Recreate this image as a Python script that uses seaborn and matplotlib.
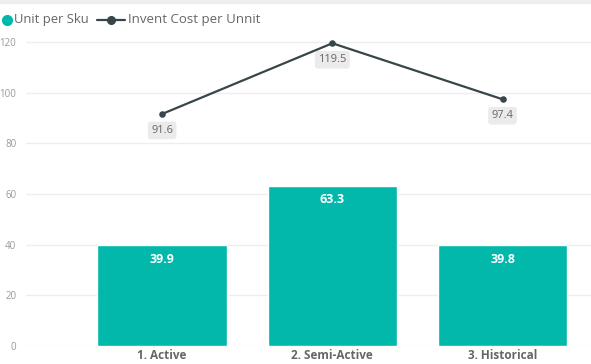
import matplotlib.pyplot as plt
import seaborn as sns
from matplotlib.lines import Line2D

categories = ["1. Active", "2. Semi-Active", "3. Historical"]
unit_per_sku = [39.9, 63.3, 39.8]
invent_cost = [91.6, 119.5, 97.4]
y_ticks = [0, 20, 40, 60, 80, 100, 120]
legend_labels = ["Unit per Sku", "Invent Cost per Unnit"]

TEAL = "#01B8AA"
DARK = "#374649"
W, H = 591, 364

sns.set_theme(style="white")
plt.rcParams["font.family"] = ["Open Sans", "DejaVu Sans"]

fig = plt.figure(figsize=(W / 100, H / 100), dpi=100)
ax = fig.add_axes([26 / W, 18 / H, 1 - 26 / W, (346 - 18) / H])

sns.barplot(x=categories, y=unit_per_sku, color=TEAL, width=0.76, ax=ax,
            saturation=1, zorder=2)
sns.pointplot(x=categories, y=invent_cost, color=DARK, ax=ax,
              markersize=3.5, linewidth=1.6, zorder=3)

ax.set_ylim(0, 120 * (346 - 18) / (346 - 42))
ax.set_xlim(-0.8, 2.52)
ax.set_yticks(y_ticks)
ax.set_yticklabels([str(v) for v in y_ticks])
ax.grid(axis="y", color="#EEEEEE", linewidth=1, zorder=0)
ax.set_axisbelow(True)
for s in ax.spines.values():
    s.set_visible(False)
ax.tick_params(axis="y", labelsize=7, labelcolor="#999999", length=0, pad=7)
ax.tick_params(axis="x", labelsize=8.5, labelcolor="#666666", length=0, pad=2)
for lbl in ax.get_xticklabels():
    lbl.set_fontweight("bold")

for i, v in enumerate(unit_per_sku):
    ax.text(i, v - 3.0, f"{v:.1f}", ha="center", va="top", color="white",
            fontsize=9, fontweight="bold", zorder=4)

for i, v in enumerate(invent_cost):
    ax.text(i, v - 6.5, f"{v:.1f}", ha="center", va="center", color="#666666",
            fontsize=8, zorder=4,
            bbox=dict(boxstyle="round,pad=0.3,rounding_size=0.3",
                      fc="#EBEBEB", ec="none"))

# legend drawn in figure pixels
ly = 1 - 20 / H
fig.lines.append(Line2D([7 / W], [ly], color=TEAL, marker="o", markersize=7,
                        linestyle="none", transform=fig.transFigure))
fig.text(14 / W, ly, legend_labels[0], ha="left", va="center",
         fontsize=9.4, color="#666666")
fig.lines.append(Line2D([97 / W, 125 / W], [ly, ly], color=DARK, linewidth=1.6,
                        transform=fig.transFigure))
fig.lines.append(Line2D([111 / W], [ly], color=DARK, marker="o", markersize=5.5,
                        transform=fig.transFigure))
fig.text(128 / W, ly, legend_labels[1], ha="left", va="center",
         fontsize=9.5, color="#666666")

fig.patches.append(plt.Rectangle((0, 1 - 3 / H), 1, 3 / H,
                                 transform=fig.transFigure, color="#EEEEEE"))

fig.savefig("out.png", dpi=100)
